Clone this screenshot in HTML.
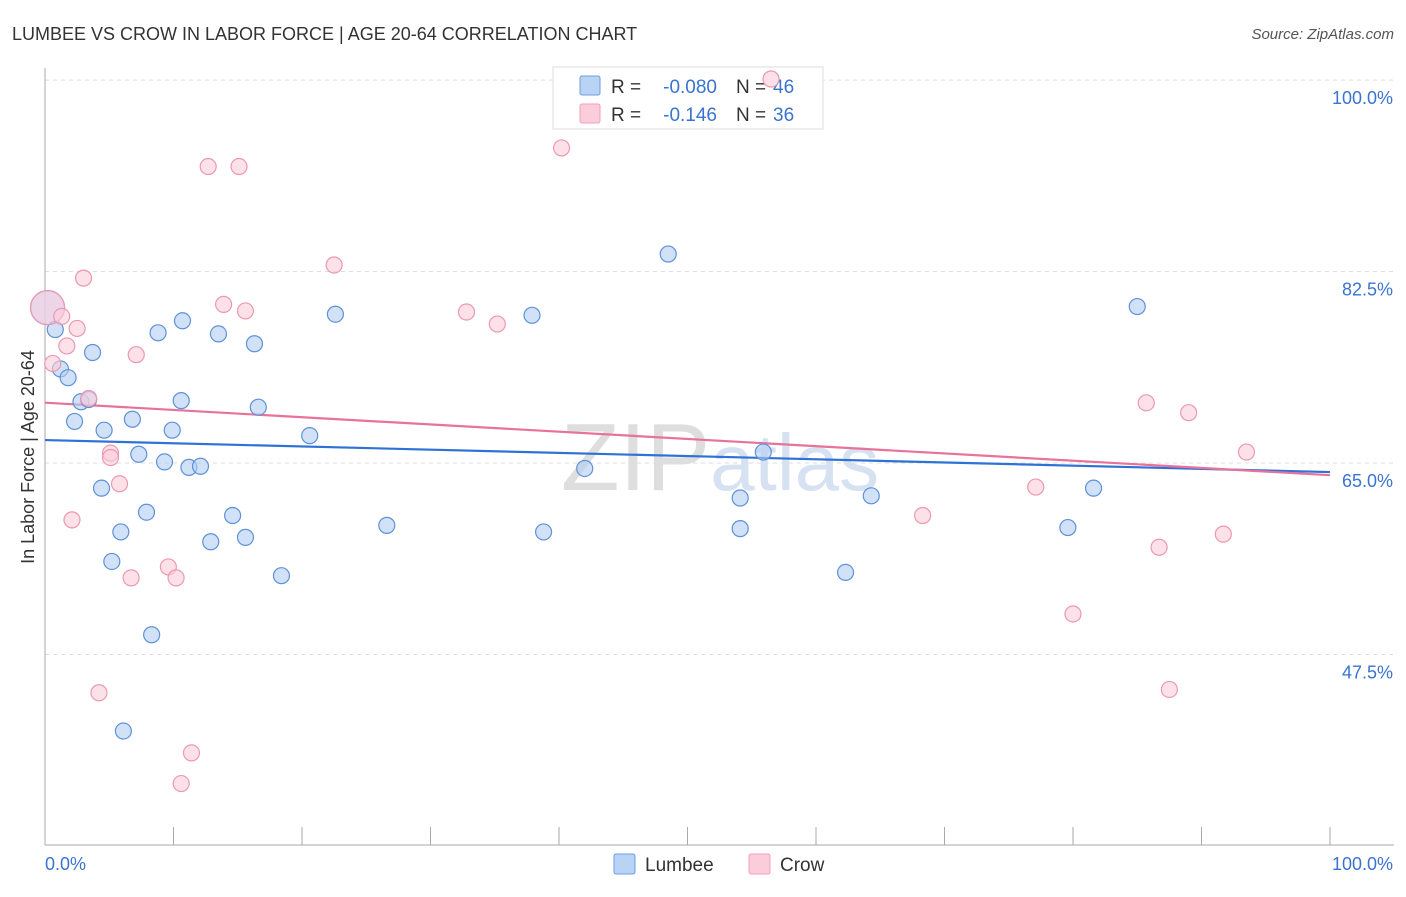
<!DOCTYPE html>
<html><head><meta charset="utf-8"><style>
body{margin:0;background:#fff;font-family:"Liberation Sans",sans-serif;}
svg text{font-family:"Liberation Sans",sans-serif;}
</style></head><body>
<svg id="chart" width="1406" height="892" viewBox="0 0 1406 892">
<text x="12" y="40" font-size="18" fill="#333">LUMBEE VS CROW IN LABOR FORCE | AGE 20-64 CORRELATION CHART</text>
<text x="1394" y="39" font-size="15" fill="#555" font-style="italic" text-anchor="end">Source: ZipAtlas.com</text>
<text x="720" y="490" font-size="96" fill="#e4e4e4" text-anchor="middle" font-family="Liberation Serif"><tspan fill="#dedede">ZIP</tspan><tspan fill="#d6e2f2" font-family="Liberation Sans" font-size="80">atlas</tspan></text>
<g id="grid"></g><g id="axes"></g>
<g>
<rect x="553" y="67" width="270" height="62" fill="#fff" stroke="#ddd"/>
<rect x="580" y="76" width="20" height="19" fill="#b9d3f5" stroke="#6d9ee0" rx="2"/>
<rect x="580" y="104" width="20" height="19" fill="#fbcddb" stroke="#eea0b8" rx="2"/>
<text x="611" y="93" font-size="19" fill="#333">R =</text>
<text x="717" y="93" font-size="19" fill="#3a73d0" text-anchor="end">-0.080</text>
<text x="736" y="93" font-size="19" fill="#333">N =</text>
<text x="773" y="93" font-size="19" fill="#3a73d0">46</text>
<text x="611" y="121" font-size="19" fill="#333">R =</text>
<text x="717" y="121" font-size="19" fill="#3a73d0" text-anchor="end">-0.146</text>
<text x="736" y="121" font-size="19" fill="#333">N =</text>
<text x="773" y="121" font-size="19" fill="#3a73d0">36</text>
</g>
<g id="lines"></g><g id="pts"></g>
<text transform="translate(34,457) rotate(-90)" font-size="18" fill="#333" text-anchor="middle">In Labor Force | Age 20-64</text>
<g>
<rect x="614" y="854" width="21" height="20" fill="#b9d3f5" stroke="#6d9ee0" rx="2"/>
<text x="645" y="871" font-size="19" fill="#333">Lumbee</text>
<rect x="749" y="854" width="21" height="20" fill="#fbcddb" stroke="#eea0b8" rx="2"/>
<text x="780" y="871" font-size="19" fill="#333">Crow</text>
</g>
</svg>
<script>
const lumbeeX=[0.2,0.8,1.2,1.8,3.7,2.3,2.8,3.4,4.6,4.4,6.8,7.3,5.2,5.9,7.9,8.3,6.1,8.8,10.7,9.9,10.6,9.3,11.2,12.1,13.5,16.3,16.6,14.6,12.9,15.6,18.4,20.6,22.6,26.6,37.9,38.8,42.0,48.5,54.1,54.1,55.9,62.3,64.3,79.6,81.6,85.0];
const lumbeeY=[79.2,77.2,73.6,72.8,75.1,68.8,70.6,70.8,68.0,62.7,69.0,65.8,56.0,58.7,60.5,49.3,40.5,76.9,78.0,68.0,70.7,65.1,64.6,64.7,76.8,75.9,70.1,60.2,57.8,58.2,54.7,67.5,78.6,59.3,78.5,58.7,64.5,84.1,61.8,59.0,66.0,55.0,62.0,59.1,62.7,79.3];
const crowX=[0.2,1.3,0.6,2.5,1.7,3.0,3.4,5.1,5.1,5.8,2.1,6.7,7.1,9.6,10.2,4.2,11.4,10.6,12.7,15.1,13.9,15.6,22.5,32.8,35.2,40.2,56.5,68.3,77.1,80.0,85.7,89.0,86.7,91.7,93.5,87.5];
const crowY=[79.2,78.4,74.1,77.3,75.7,81.9,70.9,65.9,65.5,63.1,59.8,54.5,74.9,55.5,54.5,44.0,38.5,35.7,92.1,92.1,79.5,78.9,83.1,78.8,77.7,93.8,100.1,60.2,62.8,51.2,70.5,69.6,57.3,58.5,66.0,44.3];
const yTicks=[47.5,65.0,82.5,100.0];
const xTickLabels=["0.0%","100.0%"];
const NS="http://www.w3.org/2000/svg";
const sx=v=>45+v*12.85, sy=v=>463-(v-65)*10.94;
function mk(t,a,p){const e=document.createElementNS(NS,t);for(const k in a)e.setAttribute(k,a[k]);document.getElementById(p).appendChild(e);return e;}
yTicks.forEach(t=>{
 const l=mk('line',{x1:45,x2:1394,y1:sy(t),y2:sy(t),stroke:'#ddd','stroke-dasharray':'4,4'},'grid');
 
 
 const tx=mk('text',{x:1393,y:sy(t)+24,'font-size':18,fill:'#3a73d0','text-anchor':'end'},'grid');
 tx.textContent=t.toFixed(1)+'%';
 
 
});
const ax=mk('line',{x1:45,x2:1394,y1:845,y2:845,stroke:'#aaa'},'axes');


const ay=mk('line',{x1:45,x2:45,y1:68,y2:845,stroke:'#aaa'},'axes');


for(let i=0;i<=10;i++){const t=mk('line',{x1:sx(i*10),x2:sx(i*10),y1:827,y2:845,stroke:'#aaa'},'axes');
 
 }
[[0,'start'],[100,'end']].forEach((d,i)=>{const t=mk('text',{x:sx(d[0])+(i?63:0),y:870,'font-size':18,fill:'#3a73d0','text-anchor':d[1]},'axes');t.textContent=xTickLabels[i];
 
 });
function reg(X,Y){const n=X.length;let mx=0,my=0;X.forEach((x,i)=>{mx+=x;my+=Y[i];});mx/=n;my/=n;let a=0,b=0;X.forEach((x,i)=>{a+=(x-mx)*(Y[i]-my);b+=(x-mx)*(x-mx);});const s=a/b;return [my-s*mx,my+s*(100-mx)];}
function series(X,Y,fill,stroke,lc,name){
 X.forEach((x,i)=>{const big=(i===0);const c=mk('circle',{cx:sx(x),cy:sy(Y[i]),r:big?17:8,fill:fill,'fill-opacity':big?0.6:0.6,stroke:stroke,'stroke-width':1.2},'pts');
  
  });
 const r=reg(X,Y);
 const l=mk('line',{x1:sx(0),y1:sy(r[0]),x2:sx(100),y2:sy(r[1]),stroke:lc,'stroke-width':2.2},'lines');
 
 
}
series(lumbeeX,lumbeeY,'#b3cff3','#5e91d8','#2f72d6','lumbee');
series(crowX,crowY,'#fbcddb','#ec98b2','#e8729a','crow');
</script>
</body></html>
